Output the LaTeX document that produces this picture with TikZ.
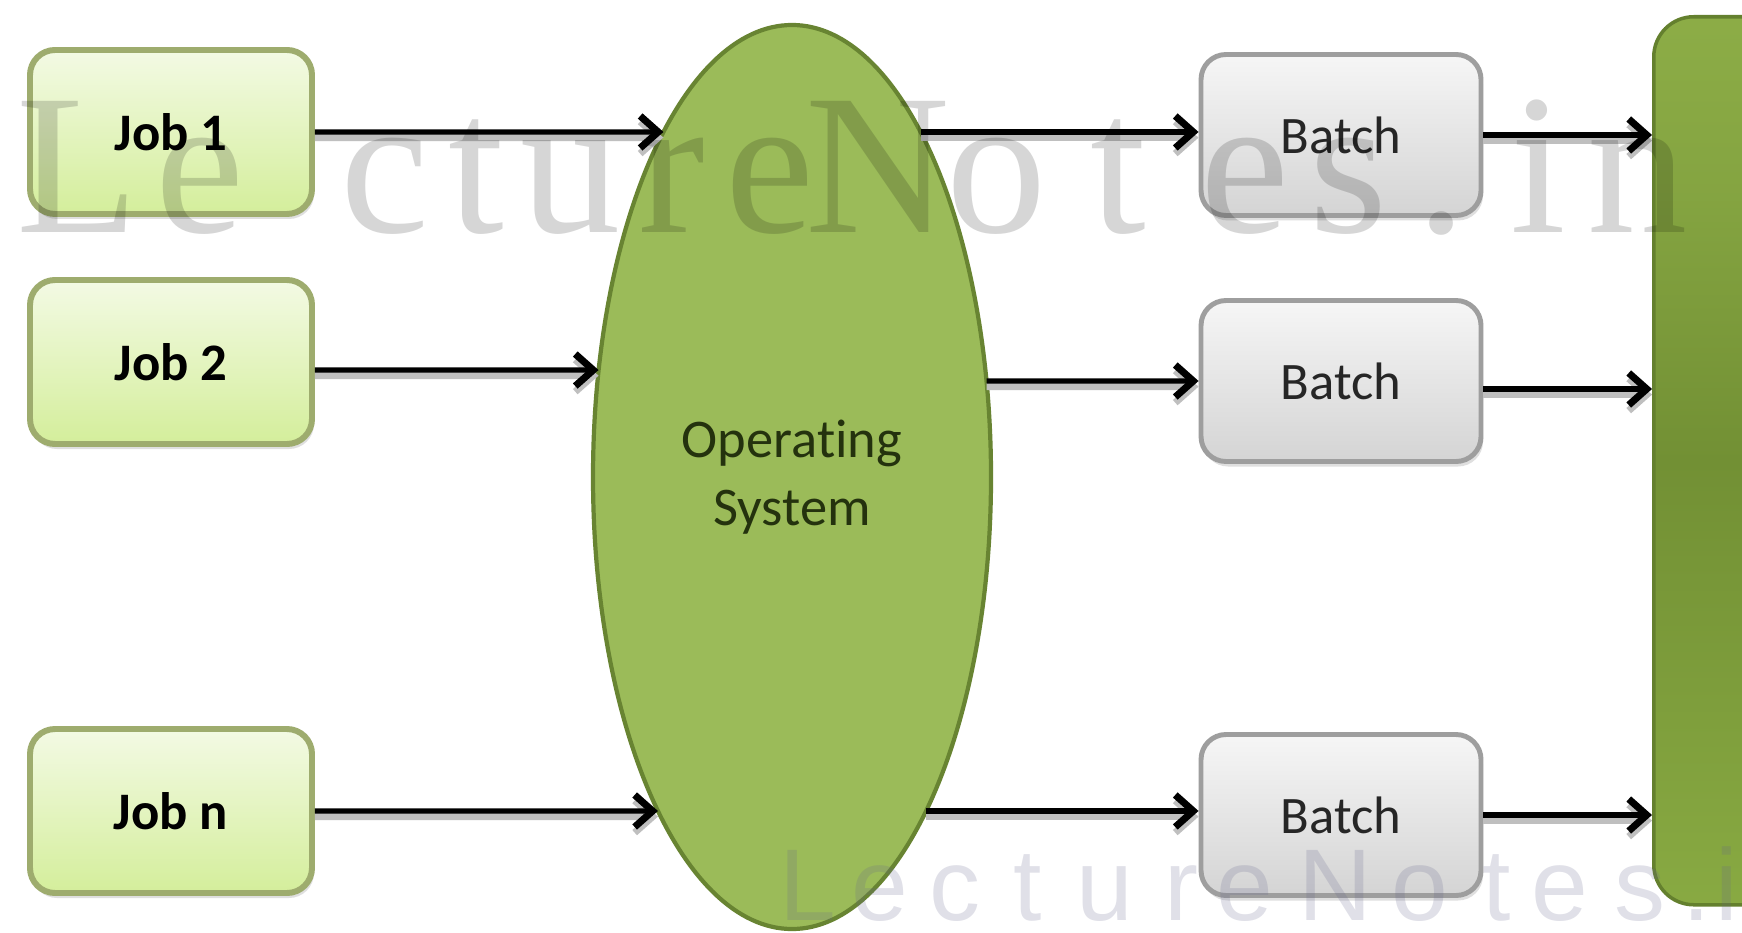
\documentclass[tikz,border=0pt]{standalone}
\usepackage{fontspec}
\setmainfont{Carlito}
\newfontfamily\markserif{Liberation Serif}
\newfontfamily\marksans{Liberation Sans}
\usetikzlibrary{arrows.meta,shapes.geometric,shadows,intersections,calc}

% palette
\definecolor{jobtop}{RGB}{243,250,228}
\definecolor{jobbot}{RGB}{212,238,155}
\definecolor{jobline}{RGB}{158,172,110}
\definecolor{battop}{RGB}{246,246,246}
\definecolor{batbot}{RGB}{212,212,212}
\definecolor{batline}{RGB}{158,158,158}
\definecolor{osfill}{RGB}{155,187,89}
\definecolor{osline}{RGB}{104,132,50}
\definecolor{ostext}{RGB}{36,50,14}
\definecolor{cputop}{RGB}{160,194,84}
\definecolor{cpumid}{RGB}{114,144,52}
\definecolor{cpubot}{RGB}{152,188,76}
\definecolor{cpuline}{RGB}{100,128,46}
\definecolor{marksoft}{RGB}{100,100,140}

% vertical shading for the processor block: light, dark middle, light
\pgfdeclareverticalshading{cpushade}{100bp}{
  color(0bp)=(cpubot); color(20bp)=(cpubot!70!cpumid);
  color(50bp)=(cpumid); color(65bp)=(cpumid!60!cputop);
  color(100bp)=(cputop)}

\begin{document}
\begin{tikzpicture}[
  labelfont/.style={font=\fontsize{15}{18}\selectfont},
  jobbox/.style={draw=jobline, line width=1.7pt, rounded corners=2.5mm,
    top color=jobtop, bottom color=jobbot,
    minimum width=2.82cm, minimum height=1.64cm, inner sep=0pt,
    font=\fontsize{15}{18}\selectfont\bfseries, text=black,
    drop shadow={shadow xshift=0.02cm, shadow yshift=-0.05cm, opacity=0.25}},
  batchbox/.style={draw=batline, line width=1.4pt, rounded corners=2.5mm,
    top color=battop, bottom color=batbot,
    minimum width=2.80cm, minimum height=1.61cm, inner sep=0pt,
    labelfont, text=black!85,
    drop shadow={shadow xshift=0.02cm, shadow yshift=-0.05cm, opacity=0.25}},
  osnode/.style={ellipse, draw=osline, line width=1.2pt, fill=osfill,
    minimum width=3.98cm, minimum height=9.04cm, inner sep=0pt,
    align=center, text=ostext,
    font=\fontsize{15.5}{19.5}\selectfont\addfontfeatures{Ligatures=NoCommon}},
  cpubox/.style={draw=cpuline, line width=1pt, rounded corners=4mm,
    shading=cpushade,
    minimum width=1.6cm, minimum height=8.88cm, inner sep=0pt},
  conn/.style={line width=1.45pt,
    -{Straight Barb[length=1.8mm, width=3.2mm, line width=2pt]},
    preaction={draw=black!25, line width=2pt, transform canvas={yshift=-1.6pt}}},
  marktop/.style={font=\markserif\fontsize{57}{60}\selectfont,
    text=black, text opacity=0.16, inner sep=0pt, anchor=base},
  markbottom/.style={font=\marksans\fontsize{29}{32}\selectfont,
    text=marksoft, text opacity=0.2, inner sep=0pt, anchor=base}
]
\useasboundingbox (0,0) rectangle (17.42,9.32);
\clip (0,0) rectangle (17.42,9.32);
\fill[white] (0,0) rectangle (17.42,9.32);

% jobs
\node[jobbox] (job1) at (1.71,8.00) {Job 1};
\node[jobbox] (job2) at (1.71,5.70) {Job 2};
\node[jobbox] (jobn) at (1.71,1.21) {Job n};

% operating system
\node[osnode] (os) at (7.92,4.55) {Operating\\System};
\path[name path=osrim] (os.center) ellipse [x radius=1.99cm, y radius=4.52cm];

% batches
\node[batchbox] (batch1) at (13.41,7.97) {Batch};
\node[batchbox] (batch2) at (13.41,5.51) {Batch};
\node[batchbox] (batch3) at (13.41,1.17) {Batch};

% processor block at the right edge
\node[cpubox, anchor=north west] (cpu) at (16.52,9.17) {};

% where each row crosses the rim of the ellipse
\path[name path=row1] (job1.east) -- ++(14,0);
\path[name intersections={of=osrim and row1, sort by=row1, name=c1}];
\path[name path=row2] ([yshift=-0.08cm]job2.east) -- ++(14,0);
\path[name intersections={of=osrim and row2, sort by=row2, name=c2}];
\path[name path=row2b] (batch2.west) -- ++(-8,0);
\path[name intersections={of=osrim and row2b, sort by=row2b, name=d2}];
\path[name path=row3] (jobn.east) -- ++(14,0);
\path[name intersections={of=osrim and row3, sort by=row3, name=c3}];

% jobs into the operating system
\draw[conn] (job1.east) -- (c1-1);
\draw[conn] ([yshift=-0.08cm]job2.east) -- (c2-1);
\draw[conn] (jobn.east) -- (c3-1);

% operating system into the batches
\draw[conn] (c1-2) -- (c1-2 -| batch1.west);
\draw[conn] (d2-1) -- (batch2.west);
\draw[conn] (c3-2) -- (c3-2 -| batch3.west);

% batches into the processor
\draw[conn] (batch1.east) -- (batch1.east -| cpu.west);
\draw[conn] ([yshift=-0.08cm]batch2.east) -- ([yshift=-0.08cm]batch2.east -| cpu.west);
\draw[conn] (batch3.east) -- (batch3.east -| cpu.west);

% watermark lettering
\foreach \ch/\x [count=\k] in {L/78, e/200, c/385, t/476, u/571, r/672, e/770,
    N/878, o/997, t/1118, e/1245, s/1348, ./1442, i/1538, n/1638}
  \node[marktop] (marka\k) at (\x/100, 6.99) {\ch};
\foreach \ch/\x [count=\k] in {L/808, e/880, c/955, t/1028, u/1105, r/1181,
    e/1245, N/1335, o/1420, t/1497, e/1560, s/1640, ./1697, i/1727}
  \node[markbottom] (markb\k) at (\x/100, 0.12) {\ch};
\end{tikzpicture}
\end{document}
